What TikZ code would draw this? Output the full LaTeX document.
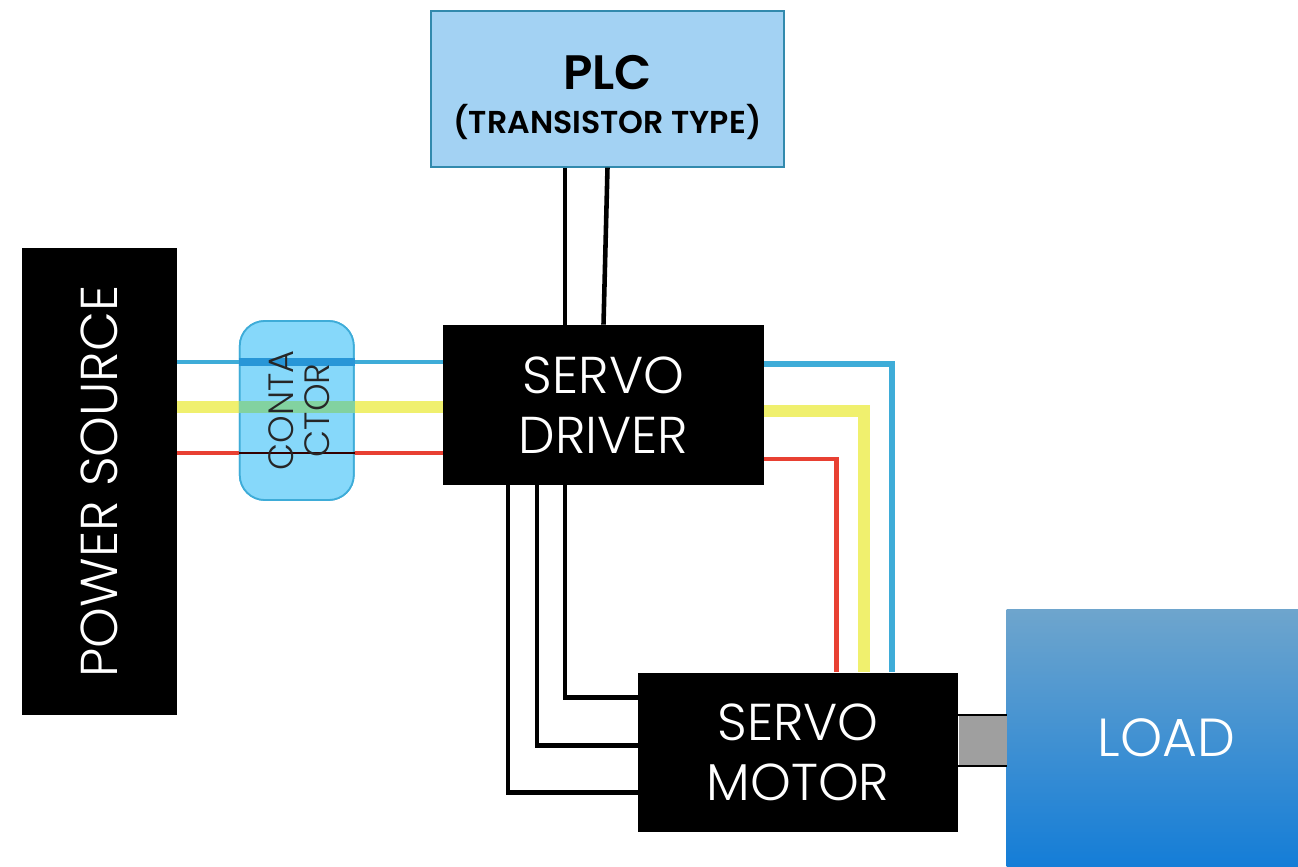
\documentclass[tikz,border=0pt]{standalone}
\usepackage{fontspec}
\setmainfont{Poppins Light}
\newfontfamily\boldlabel{Poppins SemiBold}
\usetikzlibrary{positioning, calc}

\definecolor{wireblue}{RGB}{62,172,216}
\definecolor{wireyellow}{RGB}{240,240,110}
\definecolor{wirered}{RGB}{232,64,50}
\definecolor{plcblue}{RGB}{163,210,243}
\definecolor{contactorblue}{RGB}{134,216,250}
\definecolor{loadtop}{RGB}{110,165,205}
\definecolor{loadbottom}{RGB}{20,125,215}
\definecolor{contactorgreen}{RGB}{130,210,160}
\definecolor{contactorwire}{RGB}{40,150,215}

\tikzset{
  block/.style={fill=black, text=white, inner sep=0pt, align=center},
  bigtext/.style={font=\fontsize{29.5}{34}\selectfont},
  bluewire/.style={wireblue, line width=2.6pt},
  yellowwire/.style={wireyellow, line width=7pt},
  redwire/.style={wirered, line width=2.2pt},
  blackwire/.style={black, line width=2.6pt}
}

\begin{document}
\begin{tikzpicture}
  \useasboundingbox (-12.07,8.10) rectangle (13.89,-9.22);

  % Create nodes
  \node[block, bigtext, minimum width=6.42cm, minimum height=3.2cm] (driver) {SERVO\\DRIVER};
  \node[draw=wireblue!80!black, fill=plcblue, line width=1pt, inner sep=0pt, align=center,
        minimum width=7.06cm, minimum height=3.12cm] (plc)
        [above = 3.14cm of driver, xshift=0.08cm]
        {\\[9pt]{\boldlabel\fontsize{27.5}{33}\selectfont PLC}\\[7pt]{\boldlabel\fontsize{18}{22}\selectfont (TRANSISTOR TYPE)}};
  \node[draw=wireblue, fill=contactorblue, line width=1pt, rounded corners=0.5cm, inner sep=0pt,
        minimum width=2.28cm, minimum height=3.58cm] (contactor)
        [left = 1.76cm of driver, yshift=-0.11cm] {};
  \node[block, bigtext, minimum width=3.1cm, minimum height=9.34cm] (power)
        [left = 1.24cm of contactor, yshift=-1.42cm] {\rotatebox{90}{POWER SOURCE}};
  \node[block, bigtext, minimum width=6.4cm, minimum height=3.18cm] (motor)
        [below = 3.74cm of driver, xshift=3.89cm] {SERVO\\MOTOR};
  \node[top color=loadtop, bottom color=loadbottom, text=white, font=\fontsize{30.5}{34}\selectfont, inner sep=0pt,
        minimum width=5.84cm, minimum height=5.14cm] (load)
        [right = 0.96cm of motor, yshift=0.28cm] {\hspace{0.56cm}LOAD};
  \node[fill=gray!75, inner sep=0pt, minimum width=0.96cm, minimum height=1cm] (shaft)
        [right = 0cm of motor, yshift=0.23cm] {};
  \draw[black, line width=1pt] (shaft.north west) -- (shaft.north east);
  \draw[black, line width=1pt] (shaft.south west) -- (shaft.south east);

  % Wires between source and driver
  \coordinate (bluein) at ([yshift=0.86cm]driver.west);
  \coordinate (yellowin) at ([yshift=-0.04cm]driver.west);
  \coordinate (redin) at ([yshift=-0.96cm]driver.west);
  \draw[bluewire] (power.east |- bluein) -- (bluein);
  \draw[yellowwire] (power.east |- yellowin) -- (yellowin);
  \draw[redwire] (power.east |- redin) -- (redin);

  % Contactor over the wires
  \node[draw=wireblue, fill=contactorblue, line width=1pt, rounded corners=0.5cm, inner sep=0pt,
        minimum width=2.28cm, minimum height=3.58cm] (cover) at (contactor) {};
  \draw[contactorwire, line width=4pt] (cover.west |- bluein) -- (cover.east |- bluein);
  \draw[contactorgreen, line width=7pt] (cover.west |- yellowin) -- (cover.east |- yellowin);
  \draw[black!80!red, line width=1.3pt] (cover.west |- redin) -- (cover.east |- redin);
  \node[text=black!85, align=center, font=\fontsize{20}{22}\selectfont, inner sep=0pt] (contactorlabel)
        at ([xshift=0.14cm]cover.center) {\rotatebox{90}{\begin{tabular}{@{}c@{}}CONTA\\[-2pt]CTOR\end{tabular}}};

  % Wires from PLC to driver
  \coordinate (plcleft) at ([xshift=-0.77cm]driver.north);
  \coordinate (plcright) at ([xshift=0cm]driver.north);
  \draw[blackwire] (plcleft |- plc.south) -- (plcleft);
  \draw[blackwire] ([xshift=0.08cm]plcright |- plc.south) -- (plcright);

  % Wires from driver to motor
  \coordinate (blueout) at ([yshift=0.82cm]driver.east);
  \coordinate (yellowout) at ([yshift=-0.12cm]driver.east);
  \coordinate (redout) at ([yshift=-1.08cm]driver.east);
  \coordinate (bluedown) at ([xshift=1.88cm]motor.north);
  \coordinate (yellowdown) at ([xshift=1.32cm]motor.north);
  \coordinate (reddown) at ([xshift=0.77cm]motor.north);
  \draw[bluewire, line width=3.4pt] (blueout) -- (blueout -| bluedown) -- (bluedown);
  \draw[yellowwire, line width=6.4pt] (yellowout) -- (yellowout -| yellowdown) -- (yellowdown);
  \draw[redwire, line width=2.6pt] (redout) -- (redout -| reddown) -- (reddown);

  \coordinate (encoderone) at ([xshift=-0.77cm]driver.south);
  \coordinate (encodertwo) at ([xshift=-1.33cm]driver.south);
  \coordinate (encoderthree) at ([xshift=-1.91cm]driver.south);
  \coordinate (motorone) at ([yshift=1.09cm]motor.west);
  \coordinate (motortwo) at ([yshift=0.13cm]motor.west);
  \coordinate (motorthree) at ([yshift=-0.81cm]motor.west);
  \draw[blackwire] (encoderone) -- (encoderone |- motorone) -- (motorone);
  \draw[blackwire] (encodertwo) -- (encodertwo |- motortwo) -- (motortwo);
  \draw[blackwire] (encoderthree) -- (encoderthree |- motorthree) -- (motorthree);
\end{tikzpicture}
\end{document}
